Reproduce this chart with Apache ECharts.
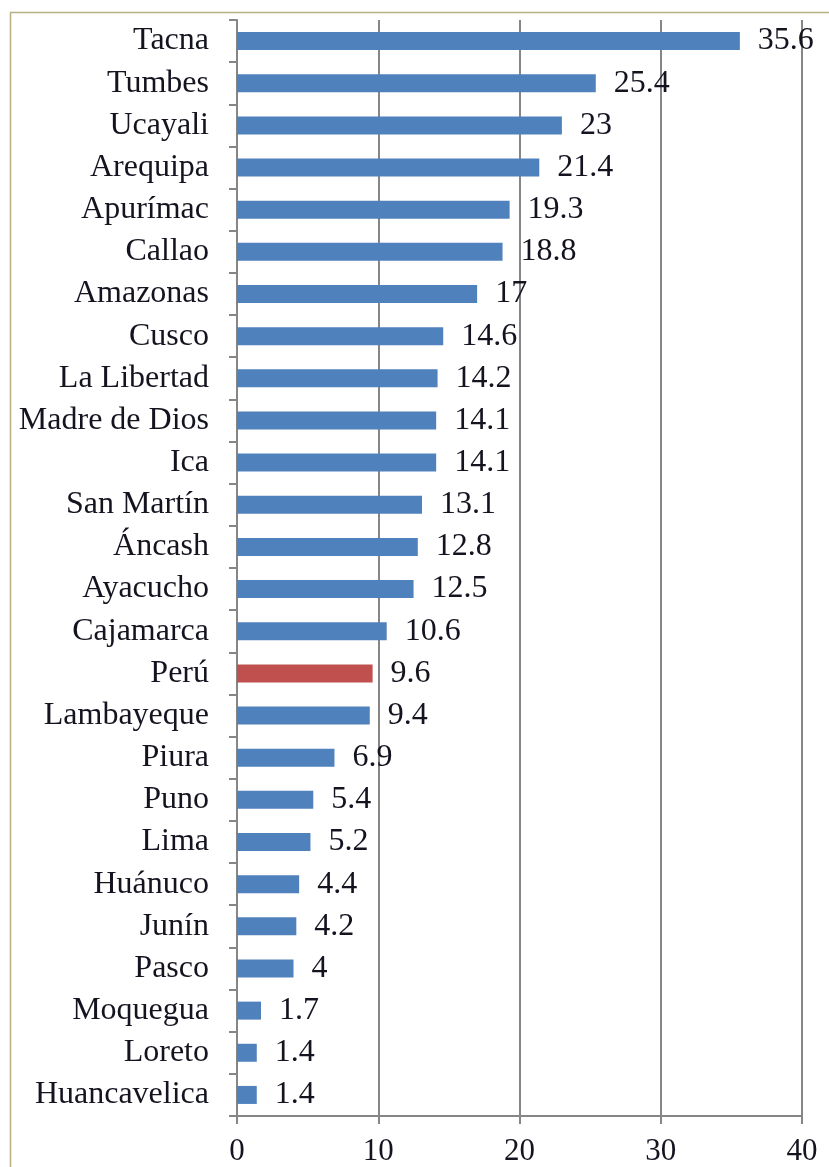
<!DOCTYPE html>
<html>
<head>
<meta charset="utf-8">
<script src="https://cdn.jsdelivr.net/npm/echarts@6/dist/echarts.min.js"></script>
<style>
html,body{margin:0;padding:0;background:#fff;}
#chart{width:829px;height:1167px;}
</style>
</head>
<body>
<div id="chart"></div>
<script>
const categories = ["Tacna","Tumbes","Ucayali","Arequipa","Apurímac","Callao","Amazonas","Cusco","La Libertad","Madre de Dios","Ica","San Martín","Áncash","Ayacucho","Cajamarca","Perú","Lambayeque","Piura","Puno","Lima","Huánuco","Junín","Pasco","Moquegua","Loreto","Huancavelica"];
const values = [35.6,25.4,23,21.4,19.3,18.8,17,14.6,14.2,14.1,14.1,13.1,12.8,12.5,10.6,9.6,9.4,6.9,5.4,5.2,4.4,4.2,4,1.7,1.4,1.4];
const highlight = "Perú";
const xTicks = [0,10,20,30,40];

const chart = echarts.init(document.getElementById('chart'), null, {renderer:'canvas'});
const font = '"Liberation Serif", "Times New Roman", serif';
const option = {
  animation:false,
  backgroundColor:'#fff',
  graphic:[{
    type:'rect', shape:{x:10.5,y:12.5,width:900,height:1300},
    style:{fill:'none',stroke:'#B9AF84',lineWidth:1.5}, z:-1
  }],
  grid:{left:237,right:27,top:20,bottom:51,containLabel:false},
  xAxis:{
    type:'value', min:xTicks[0], max:xTicks[xTicks.length-1], interval:10,
    axisLine:{show:true,lineStyle:{color:'#868686',width:2}},
    axisTick:{show:true,length:8,lineStyle:{color:'#868686',width:2}},
    splitLine:{show:true,lineStyle:{color:'#868686',width:2}},
    axisLabel:{color:'#141420',fontFamily:font,fontSize:31,margin:20}
  },
  yAxis:{
    type:'category', data:categories, inverse:true,
    axisLine:{show:true,lineStyle:{color:'#868686',width:2}},
    axisTick:{show:true,length:8,inside:false,lineStyle:{color:'#868686',width:2}},
    axisLabel:{color:'#141420',fontFamily:font,fontSize:32,margin:28},
    splitLine:{show:false}
  },
  series:[{
    type:'bar', barWidth:18,
    data: values.map((v,i)=>({value:v,itemStyle:{color: categories[i]===highlight ? '#C0504D' : '#4F81BD'}})),
    label:{show:true,position:'right',distance:18,color:'#141420',fontFamily:font,fontSize:32}
  }]
};
chart.setOption(option);
</script>
</body>
</html>
